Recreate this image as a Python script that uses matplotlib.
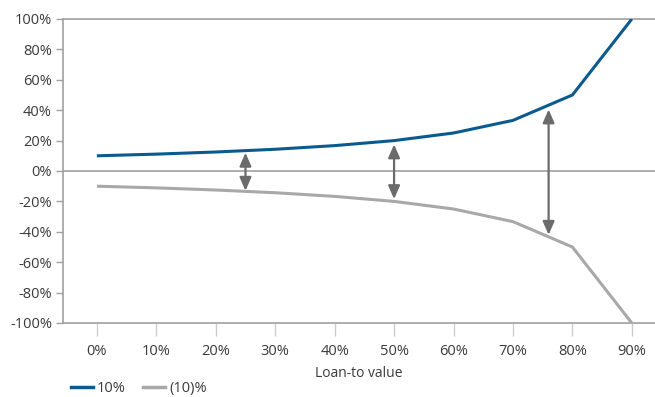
import matplotlib
matplotlib.use("Agg")
import matplotlib.pyplot as plt
from matplotlib.lines import Line2D

plt.rcParams['font.family'] = ['Open Sans', 'DejaVu Sans']

ltv_labels = ["0%", "10%", "20%", "30%", "40%", "50%", "60%", "70%", "80%", "90%"]
up_10 = [10, 11.1, 12.5, 14.3, 16.7, 20, 25, 33.3, 50, 100]
down_10 = [-10, -11.1, -12.5, -14.3, -16.7, -20, -25, -33.3, -50, -100]

# double-headed arrows: (category position, upper end, lower end)
arrow_x = [2.5, 5.0, 7.6]
arrow_top = [12.0, 17.5, 40.5]
arrow_bottom = [-13.0, -18.5, -42.0]

y_ticks = list(range(-100, 101, 20))

blue = "#0b5a8e"
grey_line = "#a8a8a8"
axis_grey = "#a0a0a0"
arrow_grey = "#6b6b6b"
text_col = "#3a3a3a"

fig = plt.figure(figsize=(6.55, 3.97), dpi=100)
ax = fig.add_axes([63 / 655, 74 / 397, 1 - 63 / 655, (323 - 19) / 397])

x = list(range(len(ltv_labels)))
ax.plot(x, up_10, color=blue, lw=2.2, solid_capstyle="butt", zorder=3)
ax.plot(x, down_10, color=grey_line, lw=2.2, solid_capstyle="butt", zorder=3)
ax.axhline(0, color=axis_grey, lw=1.2, zorder=1)

for xa, yt, yb in zip(arrow_x, arrow_top, arrow_bottom):
    ax.annotate("", xy=(xa, yt), xytext=(xa, yb),
                arrowprops=dict(arrowstyle="<|-|>,head_length=0.8,head_width=0.35",
                                color=arrow_grey, lw=1.6,
                                shrinkA=0, shrinkB=0), zorder=4)

ax.set_xlim(-0.57, 9.39)
ax.set_ylim(-100, 100)
ax.set_xticks(x)
ax.set_xticklabels(ltv_labels)
ax.set_yticks(y_ticks)
ax.set_yticklabels([f"{v}%" for v in y_ticks])

ax.spines["right"].set_visible(False)
for side in ["left", "bottom", "top"]:
    ax.spines[side].set_color(axis_grey)
    ax.spines[side].set_linewidth(1.2)

ax.tick_params(axis="y", length=5, width=1, color=axis_grey, labelsize=10.5,
               labelcolor=text_col, pad=3)
ax.tick_params(axis="x", length=9, width=1, color="#cccccc", labelsize=10.5,
               labelcolor=text_col, pad=6)

ax.set_xlabel("Loan-to value", fontsize=10, color=text_col, labelpad=5)

handles = [Line2D([], [], color=blue, lw=2.5),
           Line2D([], [], color=grey_line, lw=2.5)]
fig.legend(handles, ["10%", "(10)%"], loc="lower left",
           bbox_to_anchor=(0.088, -0.03), ncol=2, frameon=False,
           fontsize=10.5, handlelength=1.5, handletextpad=0.3,
           columnspacing=1.2, labelcolor=text_col)

fig.savefig("out.png", dpi=100)
